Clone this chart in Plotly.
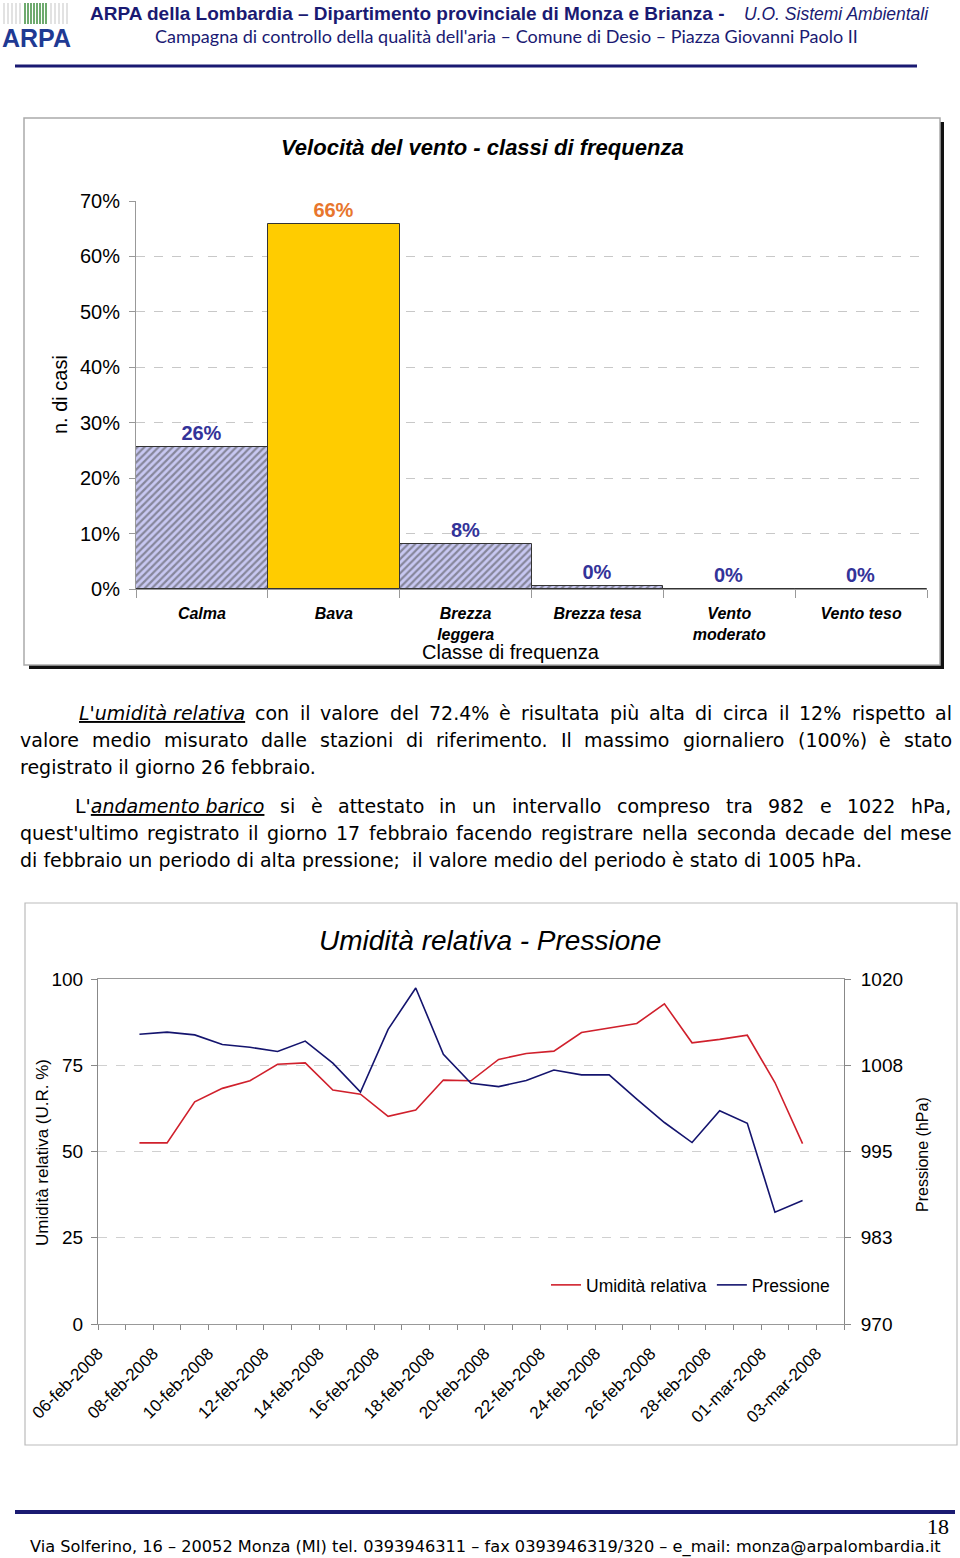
import plotly.graph_objects as go
import pandas as pd

W, H = 960, 1558


def px(x):
    return x / W


def py(y):
    return 1 - y / H


# ---------------- data: wind speed classes ----------------
wind_classes = ["Calma", "Bava", "Brezza<br>leggera", "Brezza tesa", "Vento<br>moderato", "Vento teso"]
wind_freq = [25.6, 65.8, 8.1, 0.5, 0.0, 0.0]
wind_labels = ["26%", "66%", "8%", "0%", "0%", "0%"]
wind_ticks = [0, 10, 20, 30, 40, 50, 60, 70]
wind_ticktext = ["0%", "10%", "20%", "30%", "40%", "50%", "60%", "70%"]

# ---------------- data: humidity / pressure ----------------
days = ["2008-02-07", "2008-02-08", "2008-02-09", "2008-02-10", "2008-02-11", "2008-02-12",
        "2008-02-13", "2008-02-14", "2008-02-15", "2008-02-16", "2008-02-17", "2008-02-18",
        "2008-02-19", "2008-02-20", "2008-02-21", "2008-02-22", "2008-02-23", "2008-02-24",
        "2008-02-25", "2008-02-26", "2008-02-27", "2008-02-28", "2008-02-29", "2008-03-01",
        "2008-03-02"]
humidity = [52.5, 52.5, 64.4, 68.3, 70.5, 75.3, 75.7, 67.8, 66.6, 60.2, 62.0, 70.7, 70.5,
            76.7, 78.4, 79.1, 84.5, 85.8, 87.1, 92.8, 81.5, 82.5, 83.7, 70.0, 52.3]
pressure = [1012.0, 1012.3, 1011.9, 1010.5, 1010.1, 1009.5, 1011.0, 1007.8, 1003.6, 1012.7,
            1018.7, 1009.1, 1004.9, 1004.4, 1005.3, 1006.8, 1006.1, 1006.1, 1002.6, 999.2,
            996.3, 1000.9, 999.1, 986.2, 987.9]
tick_dates = ["2008-02-06", "2008-02-08", "2008-02-10", "2008-02-12", "2008-02-14", "2008-02-16",
              "2008-02-18", "2008-02-20", "2008-02-22", "2008-02-24", "2008-02-26", "2008-02-28",
              "2008-03-01", "2008-03-03"]
tick_labels = ["06-feb-2008", "08-feb-2008", "10-feb-2008", "12-feb-2008", "14-feb-2008",
               "16-feb-2008", "18-feb-2008", "20-feb-2008", "22-feb-2008", "24-feb-2008",
               "26-feb-2008", "28-feb-2008", "01-mar-2008", "03-mar-2008"]
hum_ticks = [0, 25, 50, 75, 100]
pres_ticks = [970, 982.5, 995, 1007.5, 1020]
pres_ticktext = ["970", "983", "995", "1008", "1020"]

NAVY = "#1A1A72"
ARIAL = "Liberation Sans, Arial, sans-serif"
TXT = "DejaVu Sans, Verdana, sans-serif"

# rotated date labels: Excel anchors the end of the text at the left edge of the day slot
tick_pos = [(pd.Timestamp(d) - pd.Timedelta(hours=12)).strftime("%Y-%m-%d %H:%M")
            for d in tick_dates]

fig = go.Figure()

bar_colors = ["#C8C8F2" if i != 1 else "#FFCC00" for i in range(len(wind_freq))]
bar_shapes = ["/" if i != 1 else "" for i in range(len(wind_freq))]
label_colors = ["#E8762D" if i == 1 else "#333399" for i in range(len(wind_freq))]

fig.add_trace(go.Bar(
    x=wind_classes, y=wind_freq, text=wind_labels, textposition="outside",
    textfont=dict(color=label_colors, size=20, family=ARIAL, weight="bold"),
    marker=dict(color=bar_colors, line=dict(color="#333333", width=1),
                pattern=dict(shape=bar_shapes, fillmode="overlay", fgcolor="#8484D4",
                             size=5, solidity=0.45)),
    width=1.0, cliponaxis=False, xaxis="x", yaxis="y", showlegend=False,
    hoverinfo="skip"))

fig.add_trace(go.Scatter(
    x=days, y=humidity, mode="lines", name="Umidità relativa",
    line=dict(color="#D0202C", width=1.6), xaxis="x2", yaxis="y3"))
fig.add_trace(go.Scatter(
    x=days, y=pressure, mode="lines", name="Pressione",
    line=dict(color="#14146E", width=1.6), xaxis="x2", yaxis="y4"))

fig.update_layout(
    width=W, height=H, margin=dict(l=0, r=0, t=0, b=0, autoexpand=False),
    paper_bgcolor="white", plot_bgcolor="rgba(0,0,0,0)",
    bargap=0,
    xaxis=dict(domain=[px(136), px(927)], anchor="y", type="category", automargin=False,
               range=[-0.5, 5.5], tickson="boundaries", ticks="outside", ticklen=8,
               tickcolor="#999999", showline=True, linecolor="#999999", linewidth=1,
               showgrid=False, ticklabelstandoff=10,
               tickfont=dict(family=ARIAL, size=16, color="black", style="italic",
                             weight="bold")),
    yaxis=dict(domain=[py(589), py(201)], anchor="x", range=[0, 70], automargin=False,
               tickvals=wind_ticks, ticktext=wind_ticktext, ticks="outside", ticklen=6,
               tickcolor="#999999", showline=True, linecolor="#999999", showgrid=True,
               gridcolor="#C8C8C8", griddash="dash", zeroline=False,
               ticklabelstandoff=5,
               tickfont=dict(family=ARIAL, size=20, color="black")),
    xaxis2=dict(domain=[px(98), px(844)], anchor="y3", type="date", automargin=False,
                range=["2008-02-05 12:00", "2008-03-03 12:00"],
                tickvals=tick_pos, ticktext=tick_labels, tickangle=-45, ticks="",
                minor=dict(ticks="outside", ticklen=5, tickcolor="#888888",
                           tick0="2008-02-05 12:00", dtick=86400000, showgrid=False),
                showline=True, linecolor="#999999", mirror=True, showgrid=False,
                ticklabelstandoff=12,
                tickfont=dict(family=ARIAL, size=17, color="black")),
    yaxis3=dict(domain=[py(1324), py(979)], anchor="x2", range=[0, 100], automargin=False,
                tickvals=hum_ticks, ticks="outside", ticklen=6, tickcolor="#888888",
                showline=True, linecolor="#888888", showgrid=True, gridcolor="#D0D0D0",
                griddash="dash", zeroline=False, ticklabelstandoff=4,
                tickfont=dict(family=ARIAL, size=19, color="black")),
    yaxis4=dict(domain=[py(1324), py(979)], anchor="x2", overlaying="y3", side="right",
                range=[970, 1020], tickvals=pres_ticks, ticktext=pres_ticktext,
                automargin=False,
                ticks="outside", ticklen=6, tickcolor="#888888", showline=True,
                linecolor="#888888", showgrid=False, zeroline=False, ticklabelstandoff=6,
                tickfont=dict(family=ARIAL, size=19, color="black")),
    legend=dict(orientation="h", x=px(546), y=py(1285), xanchor="left", yanchor="middle",
                bgcolor="rgba(0,0,0,0)", font=dict(family=ARIAL, size=17.5, color="black"),
                itemwidth=30, tracegroupgap=0),
)

shapes = []
# bar chart frame with shadow
shapes.append(dict(type="rect", xref="paper", yref="paper", x0=px(29), x1=px(944),
                   y0=py(669), y1=py(122), fillcolor="#111111", line=dict(width=0),
                   layer="below"))
shapes.append(dict(type="rect", xref="paper", yref="paper", x0=px(24), x1=px(940),
                   y0=py(665), y1=py(118), fillcolor="white",
                   line=dict(color="#AAAAAA", width=1.5), layer="below"))
# line chart frame
shapes.append(dict(type="rect", xref="paper", yref="paper", x0=px(25), x1=px(957),
                   y0=py(1445), y1=py(903), fillcolor="rgba(0,0,0,0)",
                   line=dict(color="#BBBBBB", width=1.2), layer="below"))
# header / footer rules
shapes.append(dict(type="line", xref="paper", yref="paper", x0=px(15), x1=px(917),
                   y0=py(66), y1=py(66), line=dict(color=NAVY, width=3)))
shapes.append(dict(type="line", xref="paper", yref="paper", x0=px(15), x1=px(955),
                   y0=py(1512), y1=py(1512), line=dict(color=NAVY, width=4)))
# logo stripes
for i in range(8):
    xs = 25 + i * 3
    shapes.append(dict(type="line", xref="paper", yref="paper", x0=px(xs), x1=px(xs),
                       y0=py(24), y1=py(3), line=dict(color="#3E8E3E", width=1.5)))
for xs in [4, 8, 12, 16, 20, 51, 55, 59, 63, 67]:
    shapes.append(dict(type="line", xref="paper", yref="paper", x0=px(xs), x1=px(xs),
                       y0=py(24), y1=py(3), line=dict(color="#CFCFCF", width=1.2)))

annotations = []


def note(text, x, y, size, family=ARIAL, color="black", xanchor="center", angle=0):
    annotations.append(dict(text=text, x=px(x), y=py(y), xref="paper", yref="paper",
                            xanchor=xanchor, yanchor="middle", showarrow=False,
                            textangle=angle, font=dict(family=family, size=size, color=color)))


# header
note("<b>ARPA</b>", 36, 38, 25, color="#1F3A93")
note("<b>ARPA della Lombardia – Dipartimento provinciale di Monza e Brianza -</b>",
     88, 14, 19, color=NAVY, xanchor="left")
note("<i>U.O. Sistemi Ambientali</i>", 742, 14, 17.5, color=NAVY, xanchor="left")
note("Campagna di controllo della qualità dell'aria – Comune di Desio – Piazza Giovanni Paolo II",
     507, 36, 18, family="Lato, sans-serif", color=NAVY)

# bar chart texts
note("<b><i>Velocità del vento - classi di frequenza</i></b>", 482, 147, 22)
note("n. di casi", 60, 395, 20, angle=-90)
note("Classe di frequenza", 511, 652, 20)

# ---------- paragraphs (justified like the source document) ----------
# DejaVu Sans advance widths (em)
CW = {" ": 0.318, "a": 0.613, "b": 0.635, "c": 0.550, "d": 0.635, "e": 0.615, "f": 0.352,
      "g": 0.635, "h": 0.634, "i": 0.278, "j": 0.278, "k": 0.579, "l": 0.278, "m": 0.974,
      "n": 0.634, "o": 0.612, "p": 0.635, "q": 0.635, "r": 0.411, "s": 0.521, "t": 0.392,
      "u": 0.634, "v": 0.592, "w": 0.818, "x": 0.592, "y": 0.592, "z": 0.525,
      ".": 0.318, ",": 0.318, ";": 0.337, "(": 0.390, ")": 0.390, "%": 0.950, "'": 0.275,
      "L": 0.557, "I": 0.295, "P": 0.603}
for dch in "0123456789":
    CW[dch] = 0.636
ACC = {"à": "a", "è": "e", "ì": "i", "ò": "o", "ù": "u"}


def text_w(s, size):
    return sum(CW.get(ACC.get(c, c), 0.6) for c in s) * size


PSIZE = 19
RIGHT = 950
para = [
    (77, 713, True, [("<i><u>L'umidità relativa</u></i>", "L'umidità relativa")] +
     "con il valore del 72.4% è risultata più alta di circa il 12% rispetto al".split()),
    (18, 740, True, "valore medio misurato dalle stazioni di riferimento. Il massimo giornaliero (100%) è stato".split()),
    (18, 767, False, "registrato il giorno 26 febbraio."),
    (73, 806, True, [("L'<i><u>andamento barico</u></i>", "L'andamento barico")] +
     "si è attestato in un intervallo compreso tra 982 e 1022 hPa,".split()),
    (18, 833, True, "quest'ultimo registrato il giorno 17 febbraio facendo registrare nella seconda decade del mese".split()),
    (18, 860, False, "di febbraio un periodo di alta pressione;  il valore medio del periodo è stato di 1005 hPa."),
]
for x0, y0, justify, content in para:
    if not justify:
        note(content, x0, y0, PSIZE, family=TXT, xanchor="left")
        continue
    words = [w if isinstance(w, tuple) else (w, w) for w in content]
    widths = [text_w(plain, PSIZE) for _, plain in words]
    gap = (RIGHT - x0 - sum(widths)) / (len(words) - 1)
    xc = x0
    for (html, _), wd in zip(words, widths):
        note(html, xc, y0, PSIZE, family=TXT, xanchor="left")
        xc += wd + gap

# line chart texts
note("<i>Umidità relativa - Pressione</i>", 490, 940, 28)
note("Umidità relativa (U.R. %)", 42, 1153, 17, angle=-90)
note("Pressione (hPa)", 922, 1155, 16, angle=-90)

# footer
note("18", 938, 1526, 22, family="Liberation Serif, serif")
note("Via Solferino, 16 – 20052 Monza (MI) tel. 0393946311 – fax 0393946319/320 – e_mail: monza@arpalombardia.it",
     485, 1547, 16.2, family=TXT)

fig.update_layout(shapes=shapes, annotations=annotations)

fig.write_html("out.html", config={"displayModeBar": False},
               post_script="document.body.style.margin='0';document.body.style.padding='0';")
